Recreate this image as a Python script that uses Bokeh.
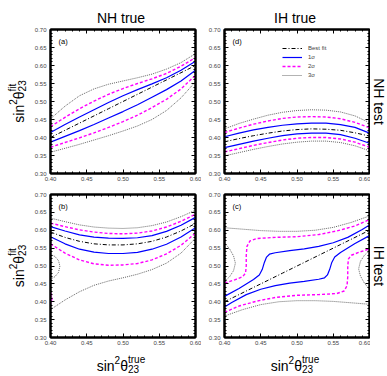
import math
from bokeh.plotting import figure
from bokeh.models import (Range1d, LinearAxis, FixedTicker, PrintfTickFormatter,
                          Label, Legend, LegendItem)
from bokeh.layouts import gridplot, row, column
from bokeh.embed import file_html
from bokeh.resources import INLINE

# ------------------------------------------------------------------ data
x_grid = [0.40, 0.42, 0.44, 0.46, 0.48, 0.50, 0.52, 0.54, 0.56, 0.58, 0.60]
x_ticks = [0.40, 0.45, 0.50, 0.55, 0.60]
y_ticks = [0.30, 0.35, 0.40, 0.45, 0.50, 0.55, 0.60, 0.65, 0.70]
x_minor = [round(0.40 + 0.01 * i, 2) for i in range(21)]
y_minor = [round(0.30 + 0.01 * i, 2) for i in range(41)]

# (a) NH true, NH test
a_best = [0.400, 0.420, 0.440, 0.460, 0.480, 0.500, 0.520, 0.540, 0.560, 0.580, 0.600]
a_1s_up = [0.414, 0.436, 0.457, 0.477, 0.497, 0.516, 0.533, 0.549, 0.566, 0.587, 0.612]
a_1s_lo = [0.387, 0.403, 0.419, 0.436, 0.454, 0.472, 0.491, 0.512, 0.533, 0.557, 0.587]
a_2s_up = [0.430, 0.456, 0.480, 0.501, 0.520, 0.536, 0.550, 0.563, 0.578, 0.598, 0.622]
a_2s_lo = [0.373, 0.386, 0.399, 0.413, 0.428, 0.444, 0.462, 0.483, 0.506, 0.535, 0.573]
a_3s_up = [0.452, 0.487, 0.516, 0.535, 0.548, 0.557, 0.566, 0.576, 0.590, 0.608, 0.633]
a_3s_lo = [0.359, 0.370, 0.381, 0.393, 0.405, 0.418, 0.432, 0.450, 0.475, 0.510, 0.555]

# (d) IH true, NH test
d_best = [0.388, 0.397, 0.405, 0.412, 0.418, 0.422, 0.424, 0.423, 0.420, 0.413, 0.404]
d_1s_up = [0.402, 0.412, 0.421, 0.428, 0.434, 0.438, 0.440, 0.440, 0.436, 0.428, 0.412]
d_1s_lo = [0.372, 0.381, 0.390, 0.398, 0.405, 0.410, 0.412, 0.412, 0.408, 0.398, 0.384]
d_2s_up = [0.414, 0.426, 0.437, 0.446, 0.453, 0.457, 0.458, 0.457, 0.452, 0.442, 0.427]
d_2s_lo = [0.360, 0.369, 0.378, 0.386, 0.393, 0.398, 0.400, 0.400, 0.396, 0.387, 0.373]
d_3s_up = [0.424, 0.439, 0.451, 0.462, 0.470, 0.475, 0.477, 0.476, 0.471, 0.460, 0.441]
d_3s_lo = [0.349, 0.358, 0.367, 0.375, 0.382, 0.387, 0.390, 0.390, 0.386, 0.377, 0.363]

# (b) NH true, IH test
b_best = [0.595, 0.580, 0.569, 0.562, 0.559, 0.559, 0.562, 0.569, 0.581, 0.598, 0.619]
b_1s_up = [0.610, 0.598, 0.587, 0.581, 0.578, 0.577, 0.579, 0.585, 0.597, 0.614, 0.636]
b_1s_lo = [0.582, 0.562, 0.547, 0.539, 0.535, 0.535, 0.538, 0.547, 0.561, 0.581, 0.607]
b_2s_up = [0.620, 0.610, 0.601, 0.595, 0.591, 0.590, 0.592, 0.598, 0.609, 0.625, 0.645]
b_2s_lo = [0.562, 0.536, 0.517, 0.506, 0.502, 0.503, 0.507, 0.517, 0.534, 0.558, 0.592]
b_3s_up = [0.634, 0.624, 0.615, 0.609, 0.606, 0.605, 0.607, 0.613, 0.623, 0.638, 0.656]
b_3s_lo = [0.378, 0.405, 0.428, 0.446, 0.458, 0.467, 0.477, 0.490, 0.508, 0.536, 0.578]
b_3s_isl_x = [0.400, 0.406, 0.411, 0.413, 0.411, 0.406, 0.400]
b_3s_isl_y = [0.532, 0.527, 0.515, 0.500, 0.482, 0.470, 0.463]
b_2s_isl_x = [0.400, 0.4015, 0.402, 0.4015, 0.400]
b_2s_isl_y = [0.425, 0.418, 0.410, 0.402, 0.395]

# (c) IH true, IH test
c_best = [0.400, 0.420, 0.440, 0.460, 0.480, 0.500, 0.520, 0.540, 0.560, 0.580, 0.600]
c_1s_up_x = [0.400, 0.420, 0.440, 0.448, 0.452, 0.455, 0.458, 0.462, 0.470, 0.490, 0.510, 0.530, 0.550, 0.570, 0.590, 0.600]
c_1s_up_y = [0.415, 0.437, 0.462, 0.475, 0.490, 0.510, 0.525, 0.533, 0.537, 0.543, 0.548, 0.555, 0.565, 0.580, 0.602, 0.615]
c_1s_lo_x = [0.400, 0.410, 0.430, 0.450, 0.470, 0.490, 0.510, 0.530, 0.538, 0.542, 0.545, 0.548, 0.552, 0.560, 0.580, 0.600]
c_1s_lo_y = [0.385, 0.398, 0.420, 0.435, 0.445, 0.452, 0.457, 0.463, 0.467, 0.475, 0.490, 0.510, 0.525, 0.538, 0.563, 0.585]
c_2s_up_x = [0.400, 0.415, 0.425, 0.429, 0.430, 0.430, 0.431, 0.435, 0.445, 0.470, 0.500, 0.530, 0.555, 0.580, 0.600]
c_2s_up_y = [0.452, 0.462, 0.470, 0.480, 0.500, 0.530, 0.555, 0.570, 0.577, 0.580, 0.582, 0.588, 0.598, 0.612, 0.630]
c_2s_lo_x = [0.400, 0.420, 0.445, 0.470, 0.500, 0.530, 0.555, 0.565, 0.569, 0.570, 0.570, 0.571, 0.575, 0.585, 0.600]
c_2s_lo_y = [0.370, 0.388, 0.402, 0.412, 0.418, 0.420, 0.423, 0.430, 0.445, 0.470, 0.500, 0.520, 0.530, 0.538, 0.548]
c_3s_top_x = [0.400, 0.425, 0.450, 0.475, 0.500, 0.525, 0.550, 0.575, 0.600]
c_3s_top_y = [0.607, 0.603, 0.599, 0.597, 0.597, 0.600, 0.608, 0.622, 0.640]
c_3s_bot_x = [0.400, 0.425, 0.450, 0.475, 0.500, 0.525, 0.550, 0.575, 0.600]
c_3s_bot_y = [0.360, 0.378, 0.392, 0.400, 0.403, 0.403, 0.401, 0.397, 0.393]
c_3s_left_x = [0.400, 0.407, 0.4125, 0.415, 0.4125, 0.407, 0.400]
c_3s_left_y = [0.565, 0.548, 0.528, 0.508, 0.487, 0.470, 0.456]
c_3s_right_x = [0.600, 0.593, 0.5875, 0.585, 0.5875, 0.593, 0.600]
c_3s_right_y = [0.435, 0.452, 0.472, 0.492, 0.513, 0.530, 0.544]

legend_labels = ["Best fit", "1\u03c3", "2\u03c3", "3\u03c3"]
col_titles = ["NH true", "IH true"]
row_titles = ["NH test", "IH test"]
panel_tags = ["(a)", "(d)", "(b)", "(c)"]

# ------------------------------------------------------------------ styles
FONT = "Liberation Sans"
STY = {
    "best": dict(line_color="black", line_width=1.0, line_dash="4 2 1 2"),
    "s1": dict(line_color="#0000ff", line_width=1.2),
    "s2": dict(line_color="#ff00ff", line_width=1.4, line_dash="3 2"),
    "s3": dict(line_color="#555555", line_width=0.9, line_dash="1 1"),
}


def style_axis(ax, ticks, minor, labels, standoff):
    ax.ticker = FixedTicker(ticks=ticks, minor_ticks=minor)
    ax.formatter = PrintfTickFormatter(format="%.2f")
    ax.axis_line_color = "black"
    ax.axis_line_width = 2
    ax.major_tick_in = 4
    ax.major_tick_out = 0
    ax.minor_tick_in = 2
    ax.minor_tick_out = 0
    ax.major_tick_line_color = "black"
    ax.minor_tick_line_color = "black"
    if labels:
        ax.major_label_text_font_size = "6px"
        ax.major_label_text_font = FONT
        ax.major_label_text_color = "#444444"
        ax.major_label_standoff = standoff
    else:
        ax.major_label_text_font_size = "1px"
        ax.major_label_text_color = None
        ax.major_label_text_alpha = 0
        ax.major_label_standoff = 0


def make_panel(bl, br, bt, bb, fw, fh):
    p = figure(frame_width=fw, frame_height=fh,
               min_border_left=bl, min_border_right=br,
               min_border_top=bt, min_border_bottom=bb,
               x_range=Range1d(0.40, 0.60), y_range=Range1d(0.30, 0.70),
               x_axis_type=None, y_axis_type=None,
               output_backend="svg", toolbar_location=None)
    p.outline_line_color = "black"
    p.outline_line_width = 2
    p.background_fill_color = "white"
    p.border_fill_color = "white"
    for side, labels in (("below", True), ("left", True), ("above", False), ("right", False)):
        ax = LinearAxis()
        if side in ("below", "above"):
            style_axis(ax, x_ticks, x_minor, labels, 3)
        else:
            style_axis(ax, y_ticks, y_minor, labels, 4)
        p.add_layout(ax, side)
    return p


def make_strip(w, h):
    p = figure(width=w, height=h, min_border=0,
               min_border_left=0, min_border_right=0, min_border_top=0, min_border_bottom=0,
               x_range=Range1d(0, 1), y_range=Range1d(0, 1),
               x_axis_type=None, y_axis_type=None,
               output_backend="svg", toolbar_location=None)
    p.outline_line_color = None
    p.background_fill_color = "white"
    p.border_fill_color = "white"
    return p


def put(p, box, px, py, text, size, angle=0.0, align="left", baseline="alphabetic"):
    # box: page-coordinate left, top, width, height of the target frame
    L, T, W, H = box
    p.add_layout(Label(x=px - L, y=(T + H) - py, x_units="screen", y_units="screen",
                       text=text, text_font=FONT, text_font_size=f"{size}px",
                       text_color="black", text_align=align, text_baseline=baseline,
                       angle=angle))


def sin2theta(p, box, start, base, vertical, script):
    pieces = [("sin", 14, 0, 17.9), ("2", 10, 6, 5.6), ("\u03b8", 14, 0, 7.8)]
    if vertical:
        d, u, ang = (0, -1), (-1, 0), math.pi / 2
    else:
        d, u, ang = (1, 0), (0, -1), 0.0
    bx, by = (base, start) if vertical else (start, base)
    off = 0.0
    for t, s, sh, adv in pieces:
        put(p, box, bx + d[0] * off + u[0] * sh, by + d[1] * off + u[1] * sh, t, s, angle=ang)
        off += adv
    for t, sh in ((script, 6.5), ("23", -3.0)):
        put(p, box, bx + d[0] * off + u[0] * sh, by + d[1] * off + u[1] * sh, t, 10, angle=ang)


# ------------------------------------------------------------------ layout (page px)
# frames: col1 48..193, col2 222..367 ; row1 29..173, row2 194..337
BOX_A = (48, 29, 145, 144)
BOX_D = (222, 29, 145, 144)
BOX_B = (48, 194, 145, 143)
BOX_C = (222, 194, 145, 143)

pa = make_panel(17, 6, 4, 11, 145, 144)
pdd = make_panel(23, 1, 4, 11, 145, 144)
pb = make_panel(17, 6, 10, 13, 145, 143)
pc = make_panel(23, 1, 10, 13, 145, 143)

S_L = (0, 0, 31, 375)
S_R = (368, 0, 18, 375)
S_T = (31, 0, 337, 25)
S_B = (31, 350, 337, 25)
sl = make_strip(S_L[2], S_L[3])
sr = make_strip(S_R[2], S_R[3])
st = make_strip(S_T[2], S_T[3])
sb = make_strip(S_B[2], S_B[3])

# ---- panel (a)
pa.line(x_grid, a_3s_up, **STY["s3"])
pa.line(x_grid, a_3s_lo, **STY["s3"])
pa.line(x_grid, a_2s_up, **STY["s2"])
pa.line(x_grid, a_2s_lo, **STY["s2"])
pa.line(x_grid, a_1s_up, **STY["s1"])
pa.line(x_grid, a_1s_lo, **STY["s1"])
pa.line(x_grid, a_best, **STY["best"])

# ---- panel (d)
r3 = pdd.line(x_grid, d_3s_up, **STY["s3"])
pdd.line(x_grid, d_3s_lo, **STY["s3"])
r2 = pdd.line(x_grid, d_2s_up, **STY["s2"])
pdd.line(x_grid, d_2s_lo, **STY["s2"])
r1 = pdd.line(x_grid, d_1s_up, **STY["s1"])
pdd.line(x_grid, d_1s_lo, **STY["s1"])
r0 = pdd.line(x_grid, d_best, **STY["best"])
leg = Legend(items=[LegendItem(label=legend_labels[0], renderers=[r0]),
                    LegendItem(label=legend_labels[1], renderers=[r1]),
                    LegendItem(label=legend_labels[2], renderers=[r2]),
                    LegendItem(label=legend_labels[3], renderers=[r3])],
             location=(58, 94), padding=0, margin=0, spacing=1,
             glyph_width=20, glyph_height=8, label_height=8, label_standoff=6,
             label_text_font_size="6px", label_text_font=FONT,
             background_fill_alpha=0, border_line_alpha=0)
pdd.add_layout(leg)

# ---- panel (b)
pb.line(x_grid, b_3s_up, **STY["s3"])
pb.line(x_grid, b_3s_lo, **STY["s3"])
pb.line(b_3s_isl_x, b_3s_isl_y, **STY["s3"])
pb.line(x_grid, b_2s_up, **STY["s2"])
pb.line(x_grid, b_2s_lo, **STY["s2"])
pb.line(b_2s_isl_x, b_2s_isl_y, **STY["s2"])
pb.line(x_grid, b_1s_up, **STY["s1"])
pb.line(x_grid, b_1s_lo, **STY["s1"])
pb.line(x_grid, b_best, **STY["best"])

# ---- panel (c)
pc.line(c_3s_top_x, c_3s_top_y, **STY["s3"])
pc.line(c_3s_bot_x, c_3s_bot_y, **STY["s3"])
pc.line(c_3s_left_x, c_3s_left_y, **STY["s3"])
pc.line(c_3s_right_x, c_3s_right_y, **STY["s3"])
pc.line(c_2s_up_x, c_2s_up_y, **STY["s2"])
pc.line(c_2s_lo_x, c_2s_lo_y, **STY["s2"])
pc.line(c_1s_up_x, c_1s_up_y, **STY["s1"])
pc.line(c_1s_lo_x, c_1s_lo_y, **STY["s1"])
pc.line(x_grid, c_best, **STY["best"])

# ---- texts
put(st, S_T, 120.5, 17, col_titles[0], 14, align="center")
put(st, S_T, 294.5, 17, col_titles[1], 14, align="center")
put(sr, S_R, 376, 101, row_titles[0], 14, angle=-math.pi / 2, align="center")
put(sr, S_R, 376, 265.5, row_titles[1], 14, angle=-math.pi / 2, align="center")

put(pa, BOX_A, 56, 41, panel_tags[0], 7.5, baseline="middle")
put(pdd, BOX_D, 230, 41, panel_tags[1], 7.5, baseline="middle")
put(pb, BOX_B, 56, 206, panel_tags[2], 7.5, baseline="middle")
put(pc, BOX_C, 230, 206, panel_tags[3], 7.5, baseline="middle")

sin2theta(sl, S_L, 101 + 21.2, 18, True, "fit")
sin2theta(sl, S_L, 265.5 + 21.2, 18, True, "fit")
sin2theta(sb, S_B, 120.5 - 24.3, 365, False, "true")
sin2theta(sb, S_B, 294.5 - 24.3, 365, False, "true")

grid = gridplot([[pa, pdd], [pb, pc]], toolbar_location=None)
layout = row(sl, column(st, grid, sb), sr)

open("out.html", "w").write(file_html(layout, INLINE))
